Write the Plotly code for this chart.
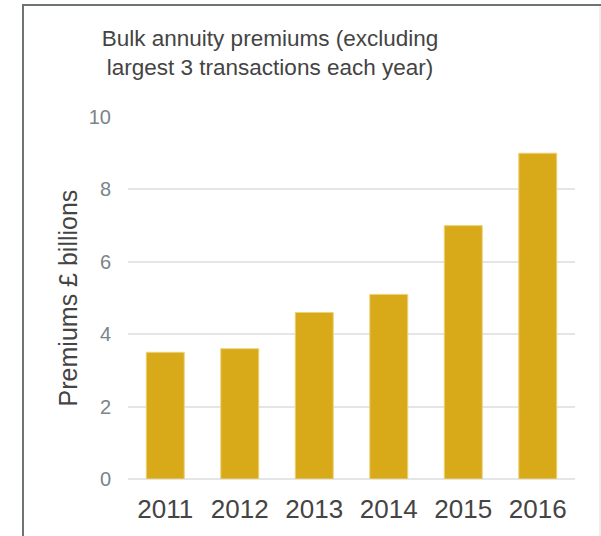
import plotly.graph_objects as go

years = ["2011", "2012", "2013", "2014", "2015", "2016"]
premiums = [3.5, 3.6, 4.6, 5.1, 7.0, 9.0]
y_ticks = [0, 2, 4, 6, 8, 10]

W, H = 601, 536
L, R, T, B = 128, 26, 117, 57
pw, ph = W - L - R, H - T - B

def px_x(px):
    return (px - L) / pw

def px_y(py):
    return (H - B - py) / ph

fig = go.Figure(go.Bar(
    x=years, y=premiums,
    marker=dict(color="#D8AA1A", line=dict(color="#EDD27C", width=1)),
    hoverinfo="x+y",
))

font = "Liberation Sans, Arial, sans-serif"

fig.update_layout(
    width=W, height=H,
    margin=dict(l=L, r=R, t=T, b=B, autoexpand=False),
    paper_bgcolor="white", plot_bgcolor="white",
    bargap=0.49,
    showlegend=False,
    font=dict(family=font),
    title=dict(
        text="Bulk annuity premiums (excluding<br>largest 3 transactions each year)",
        x=270 / W, xref="container", xanchor="center",
        y=1 - 46 / H, yref="container", yanchor="top",
        font=dict(size=22.5, color="#444444", family=font),
    ),
    xaxis=dict(
        showgrid=False, showline=False, ticks="",
        tickfont=dict(size=26, color="#444444", family=font),
        ticklabelstandoff=12,
    ),
    yaxis=dict(
        range=[0, 10], tickvals=y_ticks,
        showgrid=True, gridcolor="#E3E5E7", gridwidth=1.5,
        zeroline=True, zerolinecolor="#E3E5E7", zerolinewidth=1.5,
        showline=False, ticks="",
        tickfont=dict(size=20, color="#7A8489", family=font),
        ticklabelstandoff=16,
        title=dict(text="Premiums £ billions", standoff=4,
                   font=dict(size=25, color="#444444", family=font)),
    ),
    shapes=[
        dict(type="line", xref="paper", yref="paper",
             x0=px_x(22), x1=px_x(601), y0=px_y(5), y1=px_y(5),
             line=dict(color="#6E7474", width=2)),
        dict(type="line", xref="paper", yref="paper",
             x0=px_x(23), x1=px_x(23), y0=px_y(4), y1=px_y(537),
             line=dict(color="#6E7474", width=2)),
        dict(type="line", xref="paper", yref="paper",
             x0=px_x(600), x1=px_x(600), y0=px_y(6), y1=px_y(537),
             line=dict(color="#DCDCDC", width=1)),
    ],
)

fig.write_html("out.html", config={"displayModeBar": False},
               post_script="document.body.style.margin='0';document.body.style.overflow='hidden';")
